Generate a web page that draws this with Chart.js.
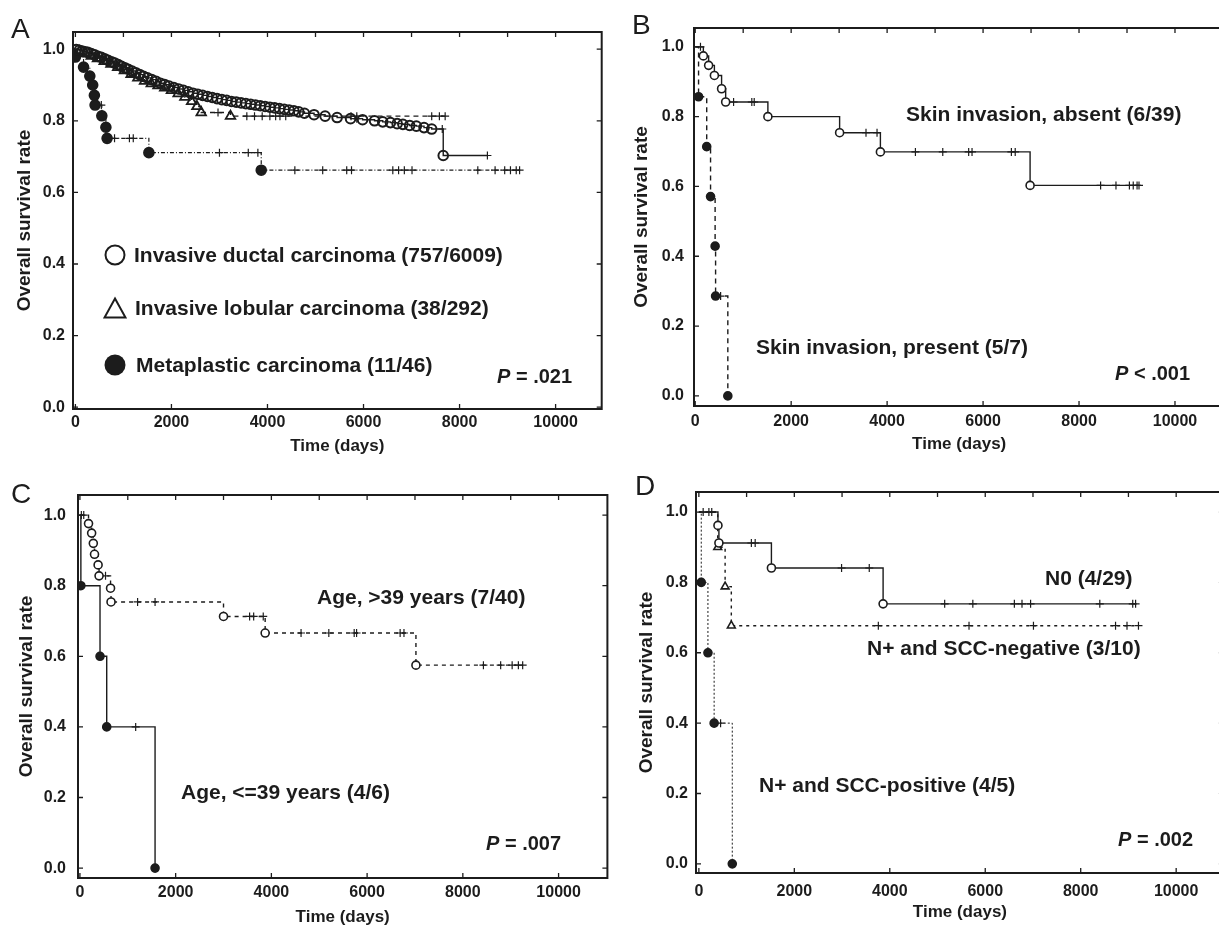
<!DOCTYPE html>
<html>
<head>
<meta charset="utf-8">
<script src="https://cdn.jsdelivr.net/npm/chart.js@4.4.0/dist/chart.umd.min.js"></script>
<style>
html, body { margin: 0; padding: 0; width: 1219px; height: 926px; overflow: hidden; background: #fff; }
body { position: relative; font-family: "Liberation Sans", Arial, Helvetica, sans-serif; color: #1c1c1c; }
canvas { position: absolute; }
.note { position: absolute; font-weight: bold; font-size: 21px; line-height: 1; white-space: nowrap; }
.pv { font-size: 20px; }
.letter { position: absolute; font-size: 28px; line-height: 1; }
svg.mk { position: absolute; }
</style>
</head>
<body>
<canvas id="panelA" width="609" height="465" style="left:0;top:0"></canvas>
<canvas id="panelB" width="620" height="465" style="left:610px;top:0"></canvas>
<canvas id="panelC" width="613" height="470" style="left:0;top:465px"></canvas>
<canvas id="panelD" width="620" height="470" style="left:610px;top:465px"></canvas>

<div class="letter" style="left:11px;top:15px">A</div>
<div class="letter" style="left:632px;top:11px">B</div>
<div class="letter" style="left:11px;top:480px">C</div>
<div class="letter" style="left:635px;top:472px">D</div>

<!-- panel A legend -->
<svg class="mk" style="left:103px;top:243px" width="24" height="24"><circle cx="12" cy="12" r="9.5" fill="none" stroke="#1c1c1c" stroke-width="2"/></svg>
<svg class="mk" style="left:103px;top:296px" width="24" height="24"><polygon points="12,2.5 22.5,21.5 1.5,21.5" fill="none" stroke="#1c1c1c" stroke-width="2"/></svg>
<svg class="mk" style="left:103px;top:353px" width="24" height="24"><circle cx="12" cy="12" r="10.5" fill="#1c1c1c"/></svg>
<div class="note" style="left:134px;top:244px">Invasive ductal carcinoma (757/6009)</div>
<div class="note" style="left:135px;top:297px">Invasive lobular carcinoma (38/292)</div>
<div class="note" style="left:136px;top:354px">Metaplastic carcinoma (11/46)</div>
<div class="note pv" style="left:497px;top:366px"><i>P</i> = .021</div>

<!-- panel B -->
<div class="note" style="left:906px;top:103px">Skin invasion, absent (6/39)</div>
<div class="note" style="left:756px;top:336px">Skin invasion, present (5/7)</div>
<div class="note pv" style="left:1115px;top:363px"><i>P</i> &lt; .001</div>

<!-- panel C -->
<div class="note" style="left:317px;top:586px">Age, &gt;39 years (7/40)</div>
<div class="note" style="left:181px;top:781px">Age, &lt;=39 years (4/6)</div>
<div class="note pv" style="left:486px;top:833px"><i>P</i> = .007</div>

<!-- panel D -->
<div class="note" style="left:1045px;top:567px">N0 (4/29)</div>
<div class="note" style="left:867px;top:637px">N+ and SCC-negative (3/10)</div>
<div class="note" style="left:759px;top:774px">N+ and SCC-positive (4/5)</div>
<div class="note pv" style="left:1118px;top:829px"><i>P</i> = .002</div>

<script>
// axis ticks shared by all four panels
const xTickValues = [0, 2000, 4000, 6000, 8000, 10000];
const xMinorValues = [0, 1000, 2000, 3000, 4000, 5000, 6000, 7000, 8000, 9000, 10000];
const yTickValues = [0, 0.2, 0.4, 0.6, 0.8, 1.0];

// --- Panel A: histologic type ---
const idcTime = [20, 80, 140, 200, 260, 330, 400, 470, 540, 610, 680, 750, 820, 890, 960, 1030, 1100, 1180, 1260, 1340,
  1420, 1500, 1590, 1680, 1770, 1860, 1950, 2050, 2150, 2250, 2350, 2450, 2550, 2650, 2750, 2850, 2950, 3050, 3150, 3250,
  3350, 3450, 3550, 3650, 3750, 3850, 3950, 4050, 4150, 4250, 4350, 4450, 4550, 4650, 4770, 4970, 5200, 5450, 5730, 5980,
  6230, 6400, 6560, 6700, 6820, 6960, 7100, 7260, 7420, 7660];
const idcSurv = [0.999, 0.997, 0.995, 0.993, 0.991, 0.988, 0.984, 0.980, 0.977, 0.973, 0.969, 0.965, 0.961, 0.957, 0.952, 0.948, 0.944, 0.939, 0.934, 0.929,
  0.924, 0.920, 0.915, 0.910, 0.905, 0.901, 0.897, 0.893, 0.889, 0.885, 0.881, 0.877, 0.874, 0.871, 0.868, 0.865, 0.862, 0.859, 0.857, 0.854,
  0.852, 0.850, 0.848, 0.846, 0.844, 0.842, 0.840, 0.838, 0.836, 0.834, 0.832, 0.830, 0.828, 0.825, 0.821, 0.817, 0.813, 0.809, 0.806, 0.803,
  0.800, 0.797, 0.795, 0.792, 0.790, 0.787, 0.785, 0.781, 0.777, 0.703];
const idcCensor = [5860, 7640, 8580];

const ilcTime = [90, 200, 330, 460, 600, 740, 880, 1020, 1160, 1300, 1440, 1580, 1720, 1860, 2000, 2140, 2280, 2420, 2530, 2620, 3230];
const ilcSurv = [0.994, 0.988, 0.981, 0.974, 0.966, 0.958, 0.949, 0.940, 0.930, 0.920, 0.911, 0.904, 0.898, 0.892, 0.885, 0.876, 0.866, 0.854, 0.840, 0.823, 0.813];
const ilcCensor = [2970, 3570, 3730, 3890, 4050, 4170, 4260, 4380, 5740, 5860, 7420, 7580, 7700];

const metaTime = [0, 170, 300, 360, 395, 410, 550, 635, 660, 1530, 3870];
const metaSurv = [0.978, 0.950, 0.925, 0.900, 0.871, 0.844, 0.814, 0.782, 0.751, 0.711, 0.662];
const metaCensor = [540, 815, 1125, 1205, 3000, 3600, 3800, 4570, 5150, 5650, 5750, 6610, 6730, 6850, 7010, 8380, 8740, 8940, 9060, 9180, 9250];

// --- Panel B: skin invasion ---
const absentTime = [170, 280, 400, 550, 635, 1515, 3010, 3860, 6980];
const absentSurv = [0.974, 0.947, 0.918, 0.880, 0.842, 0.800, 0.754, 0.699, 0.603];
const absentCensor = [110, 800, 1180, 1230, 3560, 3790, 4590, 5160, 5700, 5770, 6590, 6670, 8450, 8770, 9050, 9130, 9210, 9250];

const presentTime = [70, 240, 320, 415, 425, 680];
const presentSurv = [0.857, 0.714, 0.571, 0.429, 0.286, 0];
const presentCensor = [530];

// --- Panel C: age ---
const olderTime = [180, 245, 280, 305, 380, 400, 640, 650, 3000, 3870, 7020];
const olderSurv = [0.976, 0.949, 0.920, 0.889, 0.859, 0.828, 0.793, 0.754, 0.713, 0.666, 0.575];
const olderCensor = [30, 80, 535, 1205, 1570, 3545, 3630, 3830, 4620, 5200, 5730, 5780, 6690, 6770, 8430, 8790, 9030, 9160, 9250];

const youngerTime = [20, 420, 560, 1570];
const youngerSurv = [0.8, 0.6, 0.4, 0];
const youngerCensor = [1165];

// --- Panel D: nodal status and SCC ---
const n0Time = [400, 420, 1520, 3860];
const n0Surv = [0.962, 0.912, 0.841, 0.739];
const n0Censor = [1100, 1180, 2990, 3570, 5150, 5740, 6610, 6770, 6950, 8400, 9090, 9150];

const sccNegTime = [395, 550, 680];
const sccNegSurv = [0.900, 0.788, 0.677];
const sccNegCensor = [90, 210, 270, 3760, 5660, 7010, 8730, 8970, 9210];

const sccPosTime = [50, 190, 320, 700];
const sccPosSurv = [0.8, 0.6, 0.4, 0];
const sccPosCensor = [455];

const INK = '#1c1c1c';

// survival value of a KM curve at time t
function survAt(times, surv, t) {
    let s = 1;
    for (let i = 0; i < times.length; i++) {
        if (times[i] <= t) s = surv[i];
    }
    return s;
}

// one KM curve -> step line + event markers + censor ticks
function kmDatasets(times, surv, censors, style) {
    const events = times.map((t, i) => ({x: t, y: surv[i]}));
    const cens = censors.map(c => ({x: c, y: survAt(times, surv, c)}));
    const line = [{x: 0, y: 1}].concat(events, cens).sort((a, b) => a.x - b.x || b.y - a.y);
    return [{
        data: line, stepped: true, borderColor: INK, borderWidth: style.lw || 1.4,
        borderDash: style.dash || [], pointRadius: 0, fill: false, order: 3
    }, {
        data: cens, showLine: false, pointStyle: 'cross', pointRadius: 4,
        borderColor: INK, borderWidth: 1.2, order: 2
    }, {
        data: events, showLine: false, pointStyle: style.marker, pointRadius: style.r || 4,
        borderColor: INK, backgroundColor: style.fill, borderWidth: style.bw || 1.6, order: 1
    }];
}

// plot frame with small inward tick marks, like the original figure
const framePlugin = {
    id: 'frame',
    afterDraw(chart) {
        const {ctx, chartArea: a, scales: {x, y}} = chart;
        ctx.save();
        ctx.strokeStyle = INK;
        ctx.lineWidth = 2;
        ctx.strokeRect(a.left, a.top, a.right - a.left, a.bottom - a.top);
        ctx.lineWidth = 1.3;
        ctx.beginPath();
        xTickValues.forEach(v => {
            const px = x.getPixelForValue(v);
            ctx.moveTo(px, a.bottom); ctx.lineTo(px, a.bottom - 5);
        });
        xMinorValues.forEach(v => {
            const px = x.getPixelForValue(v);
            ctx.moveTo(px, a.top); ctx.lineTo(px, a.top + 5);
        });
        yTickValues.forEach(v => {
            const py = y.getPixelForValue(v);
            ctx.moveTo(a.left, py); ctx.lineTo(a.left + 5, py);
            ctx.moveTo(a.right, py); ctx.lineTo(a.right - 5, py);
        });
        ctx.stroke();
        ctx.restore();
    }
};

function makePanel(id, p, datasets) {
    new Chart(document.getElementById(id), {
        type: 'line',
        data: {datasets: datasets},
        plugins: [framePlugin],
        options: {
            responsive: false,
            animation: false,
            events: [],
            layout: {padding: {top: p.padTop, right: p.padRight, left: 0, bottom: 0}},
            plugins: {legend: {display: false}, tooltip: {enabled: false}},
            scales: {
                x: {
                    type: 'linear', min: p.xMin, max: p.xMax,
                    afterBuildTicks: s => { s.ticks = xTickValues.map(v => ({value: v})); },
                    afterFit: s => { s.height = p.xH; },
                    grid: {display: false, drawTicks: false},
                    border: {display: false},
                    ticks: {color: INK, font: {family: 'Liberation Sans', size: 16, weight: 'bold'},
                            padding: p.xPad, maxRotation: 0, autoSkip: false,
                            callback: v => String(v)},
                    title: {display: true, text: 'Time (days)', color: INK,
                            font: {family: 'Liberation Sans', size: 17, weight: 'bold'},
                            padding: {top: 0, bottom: p.xTitlePad}}
                },
                y: {
                    min: p.yMin, max: p.yMax,
                    afterBuildTicks: s => { s.ticks = yTickValues.map(v => ({value: v})); },
                    afterFit: s => { s.width = p.yW; },
                    grid: {display: false, drawTicks: false},
                    border: {display: false},
                    ticks: {color: INK, font: {family: 'Liberation Sans', size: 16, weight: 'bold'},
                            padding: p.yPad, callback: v => v.toFixed(1)},
                    title: {display: true, text: 'Overall survival rate', color: INK,
                            font: {family: 'Liberation Sans', size: 19, weight: 'bold'},
                            padding: {top: p.yTitlePad, bottom: 0}}
                }
            }
        }
    });
}

const WHITE = '#ffffff';
const CLEAR = 'rgba(255,255,255,0)';

makePanel('panelA',
    {padTop: 32, padRight: 2, xMin: -50, xMax: 10960, yMin: -0.005, yMax: 1.048,
     xH: 56, yW: 73, xPad: 4, yPad: 8, xTitlePad: 8, yTitlePad: 13.5},
    [].concat(
        kmDatasets(idcTime, idcSurv, idcCensor, {marker: 'circle', fill: CLEAR, r: 4.8, bw: 2}),
        kmDatasets(ilcTime, ilcSurv, ilcCensor, {marker: 'triangle', fill: CLEAR, r: 5.5, bw: 1.8, dash: [5, 4]}),
        kmDatasets(metaTime, metaSurv, metaCensor, {marker: 'circle', fill: INK, r: 5, dash: [4, 2, 1, 2], lw: 1.2})
    ));

makePanel('panelB',
    {padTop: 28, padRight: 3, xMin: -25, xMax: 11030, yMin: -0.029, yMax: 1.054,
     xH: 59, yW: 84, xPad: 6, yPad: 10, xTitlePad: 10, yTitlePad: 20},
    [].concat(
        kmDatasets(absentTime, absentSurv, absentCensor, {marker: 'circle', fill: WHITE, r: 4}),
        kmDatasets(presentTime, presentSurv, presentCensor, {marker: 'circle', fill: INK, r: 4, dash: [5, 4]})
    ));

makePanel('panelC',
    {padTop: 30, padRight: 2, xMin: -40, xMax: 11020, yMin: -0.028, yMax: 1.057,
     xH: 57, yW: 78, xPad: 5, yPad: 12, xTitlePad: 7, yTitlePad: 15},
    [].concat(
        kmDatasets(olderTime, olderSurv, olderCensor, {marker: 'circle', fill: WHITE, r: 4, dash: [4, 4]}),
        kmDatasets(youngerTime, youngerSurv, youngerCensor, {marker: 'circle', fill: INK, r: 4})
    ));

makePanel('panelD',
    {padTop: 27, padRight: 1, xMin: -60, xMax: 11000, yMin: -0.026, yMax: 1.057,
     xH: 62, yW: 86, xPad: 9, yPad: 8, xTitlePad: 12, yTitlePad: 25.5},
    [].concat(
        kmDatasets(n0Time, n0Surv, n0Censor, {marker: 'circle', fill: WHITE, r: 4}),
        kmDatasets(sccNegTime, sccNegSurv, sccNegCensor, {marker: 'triangle', fill: WHITE, r: 4.5, dash: [3, 4]}),
        kmDatasets(sccPosTime, sccPosSurv, sccPosCensor, {marker: 'circle', fill: INK, r: 4, dash: [2, 2], lw: 1})
    ));
</script>
</body>
</html>
